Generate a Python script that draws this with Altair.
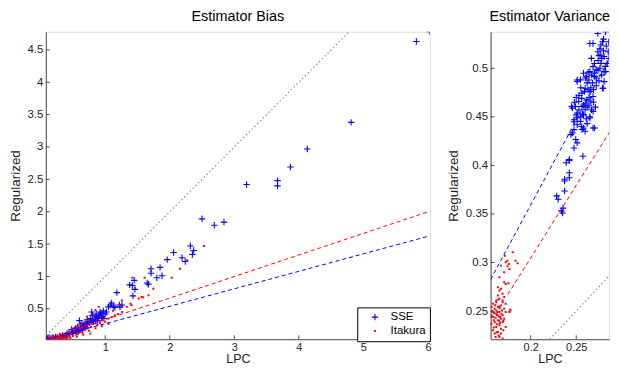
import altair as alt
import pandas as pd

# ---------------- data ----------------
# Left panel: Estimator Bias
bias_sse_x = [6.03, 5.82, 4.81, 4.13, 3.87, 3.67, 3.67, 3.19, 2.84, 2.69, 2.50, 2.37, 2.35, 2.32, 2.24, 2.19,
              2.06, 1.96, 1.88, 1.85, 1.80, 1.71, 1.71, 1.67, 1.65, 1.46, 1.45, 1.42, 1.43, 1.38, 1.18, 1.26,
              1.23, 1.22, 1.13, 1.10, 1.08, 1.05, 0.98, 0.95, 0.93, 0.90, 0.87, 0.84, 0.90, 0.85, 0.80, 0.79,
              0.77, 0.82, 0.75, 0.72, 0.70, 0.67, 0.62, 0.60, 0.59, 0.57, 0.54, 0.52, 0.49, 0.44, 0.41, 0.39,
              0.34, 0.29, 0.23, 0.18, 0.13, 0.11, 0.10, 0.62, 0.66, 0.72, 0.76, 0.81, 0.88, 0.95, 1.00, 1.02,
              0.97, 0.92, 0.45, 0.50, 0.30, 0.35, 0.26, 0.20, 0.15, 0.55, 0.60, 0.65, 0.70, 0.48, 0.40, 0.58,
              0.38, 0.32, 0.86, 0.78, 0.68, 0.64, 0.94, 1.15]
bias_sse_y = [4.78, 4.63, 3.38, 2.97, 2.69, 2.48, 2.40, 2.42, 1.84, 1.79, 1.89, 1.40, 1.34, 1.47, 1.23, 1.29,
              1.37, 1.26, 1.01, 1.14, 0.98, 1.12, 1.05, 0.88, 0.90, 0.80, 0.94, 0.86, 0.70, 0.87, 0.75, 0.56,
              0.53, 0.56, 0.54, 0.59, 0.56, 0.53, 0.35, 0.43, 0.40, 0.40, 0.375, 0.37, 0.35, 0.32, 0.40, 0.45,
              0.35, 0.30, 0.30, 0.33, 0.27, 0.25, 0.25, 0.32, 0.18, 0.22, 0.195, 0.17, 0.145, 0.13, 0.12, 0.09,
              0.09, 0.077, 0.066, 0.056, 0.056, 0.046, 0.04, 0.20, 0.22, 0.26, 0.28, 0.33, 0.32, 0.38, 0.42, 0.45,
              0.47, 0.45, 0.10, 0.12, 0.06, 0.07, 0.05, 0.045, 0.04, 0.15, 0.17, 0.19, 0.21, 0.18, 0.08, 0.14,
              0.06, 0.05, 0.42, 0.31, 0.23, 0.27, 0.36, 0.52]

bias_ita_x = [2.53, 2.27, 2.16, 2.03, 1.61, 1.42, 1.745, 1.67, 1.565, 1.46, 1.41, 1.335, 1.26, 1.23, 1.10, 1.05,
              0.95, 0.90, 0.85, 0.85, 0.75, 0.64, 0.49, 1.52, 1.39, 1.26, 1.59, 1.20, 1.15, 1.00, 0.92, 0.88,
              0.80, 0.78, 0.72, 0.70, 0.68, 0.62, 0.60, 0.58, 0.55, 0.52, 0.50, 0.47, 0.45, 0.42, 0.40, 0.38,
              0.35, 0.33, 0.30, 0.28, 0.25, 0.22, 0.20, 0.18, 0.16, 0.14, 0.12, 0.10, 0.65, 0.75, 0.85, 0.95,
              1.05, 0.57, 0.44, 0.30, 0.26, 0.36, 0.62, 0.53, 0.68, 0.82, 0.72, 0.93, 1.12, 0.13, 0.17, 0.21,
              0.24, 0.27, 0.31, 0.34, 0.37, 0.41, 0.46, 0.56, 0.66, 0.77]
bias_ita_y = [1.47, 1.25, 1.12, 0.98, 0.98, 0.98, 0.81, 0.71, 0.684, 0.82, 0.556, 0.53, 0.45, 0.556, 0.375, 0.35,
              0.324, 0.53, 0.48, 0.273, 0.324, 0.22, 0.196, 0.66, 0.58, 0.63, 0.68, 0.42, 0.40, 0.30, 0.28, 0.25,
              0.26, 0.22, 0.20, 0.24, 0.17, 0.15, 0.20, 0.12, 0.10, 0.14, 0.08, 0.11, 0.06, 0.09, 0.05, 0.07,
              0.04, 0.06, 0.08, 0.04, 0.05, 0.07, 0.04, 0.06, 0.035, 0.05, 0.04, 0.035, 0.13, 0.16, 0.20, 0.23,
              0.27, 0.22, 0.14, 0.11, 0.09, 0.10, 0.26, 0.18, 0.30, 0.36, 0.38, 0.37, 0.47, 0.03, 0.04, 0.05,
              0.035, 0.06, 0.045, 0.03, 0.05, 0.04, 0.05, 0.07, 0.10, 0.12]

bias_fit_x = [0.09, 6.02]
bias_fit_sse = [0.024, 1.625]
bias_fit_ita = [0.03, 2.005]
bias_diag = [0.09, 4.78]

# Right panel: Estimator Variance
var_sse_x = [0.2285, 0.2302, 0.2338, 0.2350, 0.2355, 0.2372, 0.2372, 0.2372, 0.2390, 0.2424, 0.2424, 0.2424,
             0.2424, 0.2573, 0.2476, 0.2494, 0.2510, 0.2458, 0.2563, 0.2598, 0.2684, 0.2702, 0.2476, 0.2510,
             0.2580, 0.2650, 0.2442, 0.2449,
             0.2476, 0.2580, 0.2511, 0.2545, 0.2476, 0.2650, 0.2580, 0.2511, 0.2459, 0.2598, 0.2667, 0.2493,
             0.2563, 0.2528, 0.2615, 0.2684, 0.2563, 0.2650, 0.2598, 0.2789, 0.2511, 0.2546, 0.2510, 0.2702,
             0.2615, 0.2580, 0.2650, 0.2823, 0.2719, 0.2684, 0.2771, 0.2841, 0.2667, 0.2806, 0.2771, 0.2737,
             0.2851, 0.2789, 0.2684, 0.2858, 0.2737, 0.2823, 0.2771, 0.2650, 0.2685, 0.2796, 0.2806, 0.2806,
             0.2530, 0.2560, 0.2600, 0.2620, 0.2640, 0.2660, 0.2620, 0.2600, 0.2640, 0.2680, 0.2700, 0.2720,
             0.2740, 0.2760, 0.2700, 0.2740, 0.2780, 0.2800, 0.2760, 0.2550, 0.2530, 0.2570, 0.2610, 0.2550,
             0.2500, 0.2580, 0.2640, 0.2560, 0.2620, 0.2480, 0.2500, 0.2590, 0.2630, 0.2690, 0.2720, 0.2670,
             0.2630, 0.2750, 0.2830, 0.2800, 0.2860, 0.2820, 0.2780, 0.2750, 0.2660, 0.2710, 0.2690]
var_sse_y = [0.3686, 0.3652, 0.3532, 0.3510, 0.3560, 0.3737, 0.3839, 0.3857, 0.4027, 0.3924, 0.4051, 0.3873,
             0.4060, 0.4095, 0.4180, 0.4266, 0.4232, 0.4334, 0.4369, 0.4351, 0.4385, 0.4385, 0.4450, 0.4490,
             0.4520, 0.4500, 0.4317, 0.4607,
             0.4368, 0.4385, 0.4419, 0.4453, 0.4470, 0.4488, 0.4522, 0.4539, 0.4590, 0.4573, 0.4573, 0.4607,
             0.4607, 0.4658, 0.4675, 0.4710, 0.4744, 0.4761, 0.4795, 0.4795, 0.4880, 0.4881, 0.4864, 0.4916,
             0.4916, 0.4949, 0.4966, 0.4966, 0.4984, 0.5017, 0.5051, 0.5051, 0.5102, 0.5120, 0.5137, 0.5171,
             0.5171, 0.5274, 0.5256, 0.5274, 0.5359, 0.5376, 0.5239, 0.5256, 0.4556, 0.4795, 0.4863, 0.4966,
             0.4720, 0.4690, 0.4640, 0.4600, 0.4700, 0.4800, 0.4850, 0.4900, 0.4880, 0.4850, 0.4950, 0.4900,
             0.4980, 0.5000, 0.5050, 0.5080, 0.5100, 0.5180, 0.5200, 0.4800, 0.4570, 0.4530, 0.4480, 0.4500,
             0.4520, 0.4620, 0.4620, 0.4400, 0.4430, 0.4650, 0.4700, 0.4760, 0.4780, 0.4780, 0.4820, 0.4930,
             0.4960, 0.5130, 0.5230, 0.5300, 0.5100, 0.5020, 0.4930, 0.4870, 0.4660, 0.4600, 0.4650]

var_ita_x = [0.1716, 0.1803, 0.1744, 0.1761, 0.1726, 0.1858, 0.1834, 0.1747, 0.1674, 0.1768, 0.1709, 0.1657,
             0.1709, 0.1726, 0.1754, 0.1640, 0.1674, 0.1657, 0.1692, 0.1640, 0.1709, 0.1657, 0.1622, 0.1692,
             0.1587, 0.1674, 0.1640, 0.1605, 0.1709, 0.1778, 0.1657, 0.1587, 0.1726, 0.1622, 0.1692, 0.1587,
             0.1674, 0.1640, 0.1605, 0.1692, 0.1657, 0.1622, 0.1674, 0.1640, 0.1605, 0.1674, 0.1657, 0.1570,
             0.1726, 0.1622, 0.1692, 0.1570, 0.1709, 0.1726, 0.1570, 0.1615, 0.1650, 0.1685, 0.1622, 0.1657,
             0.1594, 0.1664, 0.1629, 0.1699, 0.1587, 0.1650, 0.1615, 0.1692, 0.1765, 0.1775, 0.1560, 0.1575,
             0.1600, 0.1630, 0.1660, 0.1680, 0.1610, 0.1645, 0.1700, 0.1635, 0.1665, 0.1595, 0.1625, 0.1655]
var_ita_y = [0.3070, 0.3105, 0.3019, 0.2985, 0.3002, 0.2992, 0.3019, 0.2961, 0.2968, 0.2934, 0.2900, 0.2849,
             0.2797, 0.2780, 0.2787, 0.2746, 0.2729, 0.2712, 0.2678, 0.2661, 0.2644, 0.2627, 0.2610, 0.2592,
             0.2575, 0.2558, 0.2541, 0.2524, 0.2524, 0.2507, 0.2490, 0.2490, 0.2490, 0.2473, 0.2456, 0.2439,
             0.2422, 0.2405, 0.2387, 0.2387, 0.2353, 0.2336, 0.2319, 0.2285, 0.2268, 0.2268, 0.2234, 0.2541,
             0.2575, 0.2592, 0.2610, 0.2456, 0.2422, 0.2336, 0.2370, 0.2432, 0.2446, 0.2507, 0.2507, 0.2548,
             0.2405, 0.2377, 0.2364, 0.2302, 0.2302, 0.2251, 0.2234, 0.2217, 0.2490, 0.2515, 0.2440, 0.2500,
             0.2480, 0.2460, 0.2530, 0.2470, 0.2560, 0.2620, 0.2400, 0.2490, 0.2440, 0.2330, 0.2280, 0.2400]

var_fit_sse_x = [0.156, 0.2875]
var_fit_sse_y = [0.2825, 0.512]
var_fit_ita_x = [0.175, 0.2875]
var_fit_ita_y = [0.2672, 0.4356]
var_diag = [0.221, 0.2875]

series_names = ["SSE", "Itakura"]

FONT = "Liberation Sans"
PLUS = "M-1,0L1,0M0,-1L0,1"
AXIS_COLOR = "#4d4d4d"


def panel(title, sx, sy, ix, iy, xdom, ydom, xticks, yticks, lines, diag, w, h,
          ytitle_pad, legend):
    pts = pd.DataFrame({
        "x": list(sx) + list(ix),
        "y": list(sy) + list(iy),
        "s": ["SSE"] * len(sx) + ["Itakura"] * len(ix),
        "o": list(range(len(sx) + len(ix))),
    })
    xs = alt.Scale(domain=xdom, nice=False, zero=False)
    ys = alt.Scale(domain=ydom, nice=False, zero=False)
    if legend:
        leg = alt.Legend(title=None, orient="none", legendX=w - 73, legendY=h - 32,
                         strokeColor="black", fillColor="white", padding=4,
                         labelFont=FONT, labelFontSize=11.5, labelColor="black",
                         symbolOffset=8, labelOffset=10, rowPadding=1, cornerRadius=0,
                         symbolStrokeWidth=1.1)
    else:
        leg = None
    xaxis = alt.Axis(values=xticks, format="~g", title="LPC", tickSize=0, grid=False,
                     domainColor=AXIS_COLOR, labelFont=FONT, labelFontSize=11,
                     labelColor="#222", titleFont=FONT, titleFontSize=12.5,
                     titleFontWeight="normal", titleColor="#222", labelPadding=2,
                     titlePadding=0, labelOverlap=False, labelFlush=False, labelBound=False)
    yaxis = alt.Axis(values=yticks, format="~g", title="Regularized", tickSize=0, grid=False,
                     domainColor=AXIS_COLOR, labelFont=FONT, labelFontSize=11.5,
                     labelColor="#222", titleFont=FONT, titleFontSize=13.5,
                     titleFontWeight="normal", titleColor="#222", labelPadding=3,
                     titlePadding=ytitle_pad, labelOverlap=False, labelFlush=False, labelBound=False)

    def X(f):
        return alt.X(f, scale=xs, axis=xaxis, title="LPC")

    def Y(f):
        return alt.Y(f, scale=ys, axis=yaxis, title="Regularized")

    points = alt.Chart(pts).mark_point(filled=False, strokeWidth=1.1, opacity=1, clip=True).encode(
        x=X("x:Q"),
        y=Y("y:Q"),
        color=alt.Color("s:N", scale=alt.Scale(domain=series_names, range=["#0000ff", "#ff0000"]), legend=leg),
        shape=alt.Shape("s:N", scale=alt.Scale(domain=series_names, range=[PLUS, "square"]), legend=leg),
        size=alt.Size("s:N", scale=alt.Scale(domain=series_names, range=[42, 0.8]), legend=leg),
        order=alt.Order("o:Q"),
    )

    layers = [points]
    dd = pd.DataFrame({"x": diag, "y": diag})
    layers.append(alt.Chart(dd).mark_line(color="#8c8c8c", strokeDash=[1.5, 2.5], strokeWidth=1.2,
                                          clip=True).encode(x=X("x:Q"), y=Y("y:Q")))
    for (lx, ly, col) in lines:
        ld = pd.DataFrame({"x": lx, "y": ly})
        layers.append(alt.Chart(ld).mark_line(color=col, strokeDash=[4, 3], strokeWidth=1,
                                              clip=True).encode(x=X("x:Q"), y=Y("y:Q")))
    # inward ticks
    xt = pd.DataFrame({"x": xticks})
    yt = pd.DataFrame({"y": yticks})
    layers.append(alt.Chart(xt).mark_rule(color=AXIS_COLOR, strokeWidth=1).encode(
        x=X("x:Q"), y=alt.value(h), y2=alt.value(h - 4)))
    layers.append(alt.Chart(yt).mark_rule(color=AXIS_COLOR, strokeWidth=1).encode(
        y=Y("y:Q"), x=alt.value(0), x2=alt.value(4)))

    return alt.layer(*layers).properties(
        width=w, height=h,
        title=alt.TitleParams(title, font=FONT, fontSize=14.5, fontWeight="normal", color="black",
                              anchor="middle", offset=7),
    )


left = panel("Estimator Bias", bias_sse_x, bias_sse_y, bias_ita_x, bias_ita_y,
             [0.08, 6.03], [0.03, 4.78], [1, 2, 3, 4, 5, 6], [0.5, 1, 1.5, 2, 2.5, 3, 3.5, 4, 4.5],
             [(bias_fit_x, bias_fit_ita, "#ff0000"), (bias_fit_x, bias_fit_sse, "#0000ff")],
             bias_diag, 386, 309, 4, True)

right = panel("Estimator Variance", var_sse_x, var_sse_y, var_ita_x, var_ita_y,
              [0.156, 0.286], [0.221, 0.5376], [0.2, 0.25], [0.25, 0.3, 0.35, 0.4, 0.45, 0.5],
              [(var_fit_ita_x, var_fit_ita_y, "#ff0000"), (var_fit_sse_x, var_fit_sse_y, "#0000ff")],
              var_diag, 119, 309, 5, False)

chart = alt.hconcat(left, right, spacing=14).resolve_scale(
    color="independent", shape="independent", size="independent"
).properties(padding=0).configure_view(stroke=None).configure(background="white")

chart.save("out.html", embed_options={"renderer": "svg", "actions": False})
